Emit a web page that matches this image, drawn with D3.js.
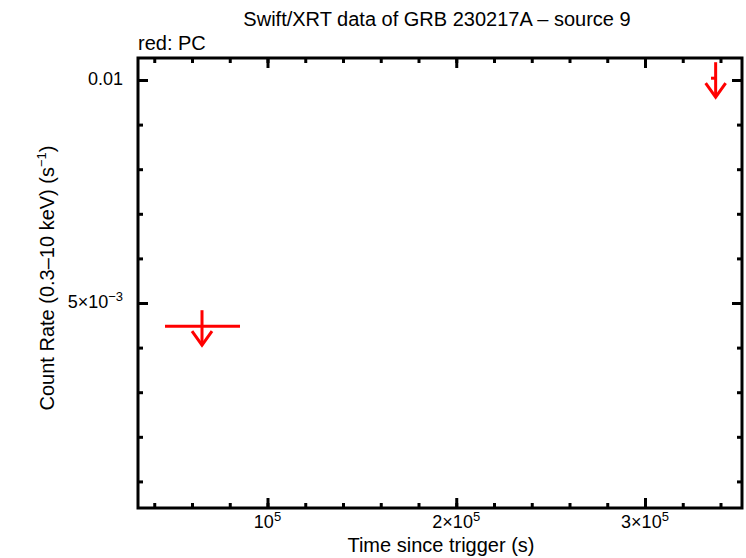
<!DOCTYPE html>
<html>
<head>
<meta charset="utf-8">
<script src="https://cdn.jsdelivr.net/npm/d3@7/dist/d3.min.js"></script>
<style>
  html, body { margin: 0; padding: 0; background: #fff; }
  text { font-family: "Liberation Sans", Arial, Helvetica, sans-serif; fill: #000; }
</style>
</head>
<body>
<script>
// ---- data ----
const times    = [65300, 337430];           // bin centre (s)
const timeLow  = [45700, 334970];           // bin start (s)
const timeHigh = [85430, 337880];           // bin end (s)
const rates    = [0.00448, 0.01004];        // upper limits (count/s)
const xMajorTicks = [100000, 200000, 300000];
const xTickLabels = [["10", "5"], ["2×10", "5"], ["3×10", "5"]];
const yMajorTicks = [0.005, 0.01];
const yTickLabels = [["5×10", "−3"], ["0.01", ""]];
const xMinorTicks = d3.range(40000, 350000, 20000);
const yMinorTicks = d3.range(1, 11).map(d => d / 1000);

const W = 746, H = 558;
const L = 138, R = 742, T = 58, B = 508;

const svg = d3.select("body").append("svg").attr("width", W).attr("height", H);

const x = d3.scaleLinear().domain([31391, 351391]).range([L, R]);
const y = d3.scaleLinear().domain([0.000404, 0.010493]).range([B, T]);

function axisGroup(axisFn, scale, ticks, size, tx, ty) {
  const g = svg.append("g").attr("transform", `translate(${tx},${ty})`)
    .call(axisFn(scale).tickValues(ticks).tickSize(size).tickFormat(""));
  g.select(".domain").remove();
  g.selectAll("line").attr("stroke", "#000").attr("stroke-width", 3);
  return g;
}
// bottom & top ticks (inward)
axisGroup(d3.axisBottom, x, xMinorTicks, -5, 0, B);
axisGroup(d3.axisBottom, x, xMajorTicks, -10, 0, B);
axisGroup(d3.axisTop, x, xMinorTicks, -5, 0, T);
axisGroup(d3.axisTop, x, xMajorTicks, -10, 0, T);
// left & right
axisGroup(d3.axisLeft, y, yMinorTicks, -5, L, 0);
axisGroup(d3.axisLeft, y, yMajorTicks, -10, L, 0);
axisGroup(d3.axisRight, y, yMinorTicks, -5, R, 0);
axisGroup(d3.axisRight, y, yMajorTicks, -10, R, 0);

// frame
svg.append("rect").attr("x", L).attr("y", T).attr("width", R - L).attr("height", B - T)
  .attr("fill", "none").attr("stroke", "#000").attr("stroke-width", 3);

// tick labels
const tfs = 18, sfs = 13, fs = 20;
xMajorTicks.forEach((v, i) => {
  const t = svg.append("text").attr("x", x(v)).attr("y", 528)
    .attr("text-anchor", "middle").attr("font-size", tfs);
  t.append("tspan").text(xTickLabels[i][0]);
  t.append("tspan").attr("dy", -7).attr("font-size", sfs).text(xTickLabels[i][1]);
});
yMajorTicks.forEach((v, i) => {
  const t = svg.append("text").attr("x", 123).attr("y", y(v) + 5)
    .attr("text-anchor", "end").attr("font-size", tfs);
  t.append("tspan").text(yTickLabels[i][0]);
  if (yTickLabels[i][1]) t.append("tspan").attr("dy", -7).attr("font-size", sfs).text(yTickLabels[i][1]);
});

// titles
svg.append("text").attr("x", 437).attr("y", 26).attr("text-anchor", "middle")
  .attr("font-size", fs).text("Swift/XRT data of GRB 230217A – source 9");
svg.append("text").attr("x", 138).attr("y", 50).attr("font-size", fs).text("red: PC");
svg.append("text").attr("x", 441).attr("y", 552).attr("text-anchor", "middle")
  .attr("font-size", fs).text("Time since trigger (s)");
const yl = svg.append("text").attr("transform", `translate(54,278) rotate(-90)`)
  .attr("text-anchor", "middle").attr("font-size", fs);
yl.append("tspan").text("Count Rate (0.3–10 keV) (s");
yl.append("tspan").attr("dy", -8).attr("font-size", sfs).text("−1");
yl.append("tspan").attr("dy", 8).text(")");

// data: upper limits
const red = "#ff0000";
const pts = times.map((t, i) => ({ t, lo: timeLow[i], hi: timeHigh[i], r: rates[i] }));
const g = svg.append("g").attr("stroke", red).attr("stroke-width", 3).attr("fill", "none");
pts.forEach(p => {
  const cx = x(p.t), cy = y(p.r);
  g.append("line").attr("x1", x(p.lo)).attr("x2", x(p.hi)).attr("y1", cy).attr("y2", cy);
  g.append("line").attr("x1", cx).attr("x2", cx).attr("y1", cy - 16).attr("y2", cy + 19);
  g.append("path").attr("d", `M${cx - 10},${cy + 5}L${cx},${cy + 19}L${cx + 10},${cy + 5}`);
});
</script>
</body>
</html>
